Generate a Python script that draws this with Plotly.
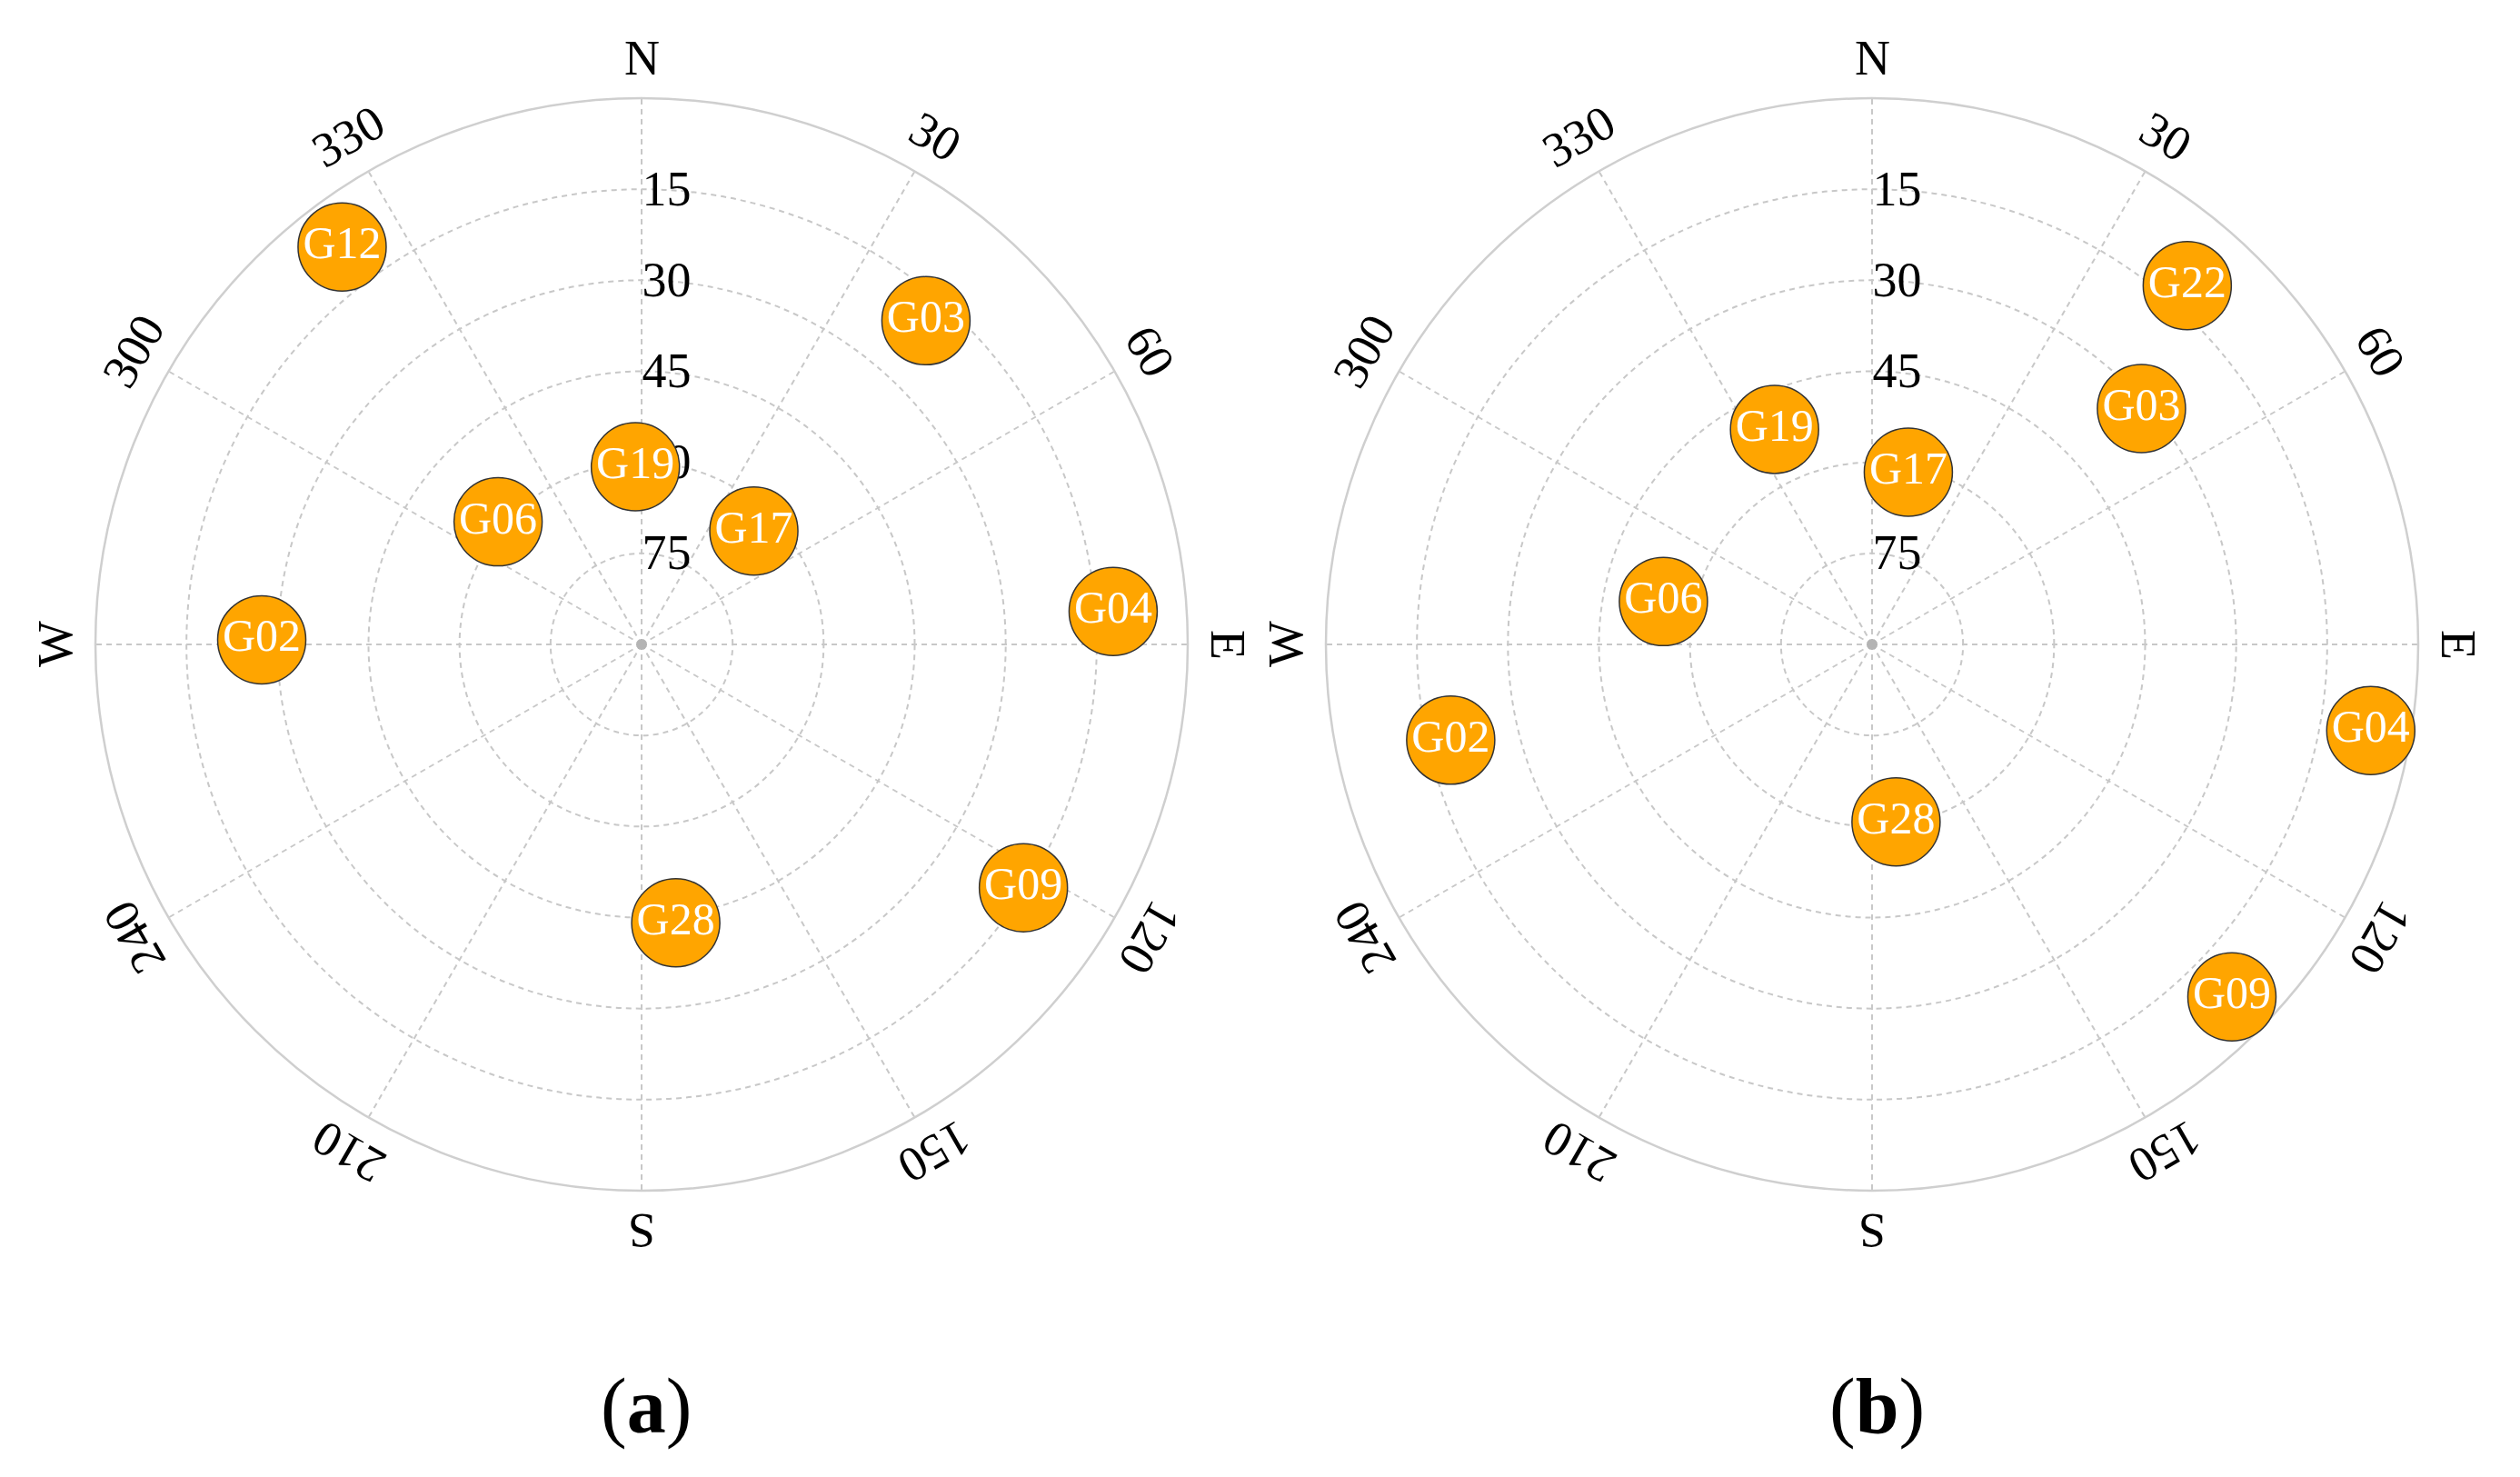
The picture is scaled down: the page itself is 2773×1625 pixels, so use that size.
import math
import plotly.graph_objects as go

# Sky plot data: satellite, azimuth (deg from N, clockwise), elevation (deg)
sats_a = ["G12", "G03", "G19", "G06", "G17", "G04", "G02", "G28", "G09"]
azim_a = [323.0, 41.3, 358.0, 310.5, 44.7, 86.0, 270.7, 173.0, 122.5]
elev_a = [8.0, 19.0, 60.7, 58.9, 63.7, 12.1, 27.4, 43.8, 15.4]

sats_b = ["G22", "G03", "G19", "G17", "G06", "G02", "G04", "G28", "G09"]
azim_b = [41.3, 48.8, 335.6, 11.9, 281.6, 257.2, 99.8, 172.3, 134.4]
elev_b = [11.3, 31.0, 51.1, 61.0, 54.9, 18.8, 6.6, 60.5, 7.0]

elev_ticks = [15, 30, 45, 60, 75]
azim_ticks = [0, 30, 60, 90, 120, 150, 180, 210, 240, 270, 300, 330]
azim_labels = ["N", "30", "60", "E", "120", "150", "S", "210", "240", "W", "300", "330"]
captions = ["(<b>a</b>)", "(<b>b</b>)"]

# page geometry (pixels)
W, H = 2773, 1625
centers = [(706, 709), (2060, 709)]
R = 601
label_r = R + 44
FONT = "Liberation Serif"
GRID = "#c8c8c8"

fig = go.Figure()
annotations = []
panels = [(sats_a, azim_a, elev_a), (sats_b, azim_b, elev_b)]

for i, (sats, azim, elev) in enumerate(panels):
    polar = "polar" if i == 0 else f"polar{i + 1}"
    cx, cy = centers[i]

    # zenith dot
    fig.add_trace(go.Scatterpolar(
        r=[0], theta=[0], subplot=polar, mode="markers",
        marker=dict(size=12, color="#b4b4b4"), hoverinfo="skip",
    ))
    fig.add_trace(go.Scatterpolar(
        r=[90 - e for e in elev], theta=azim, subplot=polar,
        mode="markers+text", text=sats, textposition="middle center",
        textfont=dict(family=FONT, size=50, color="white"),
        marker=dict(size=97, color="#FFA500", line=dict(color="#333333", width=1.5)),
        name=f"panel {i}",
    ))

    fig.update_layout({polar: dict(
        domain=dict(x=[(cx - R) / W, (cx + R) / W],
                    y=[(H - cy - R) / H, (H - cy + R) / H]),
        bgcolor="white",
        angularaxis=dict(
            rotation=90, direction="clockwise",
            tickvals=azim_ticks, showticklabels=False, ticks="",
            showgrid=True, gridcolor=GRID, gridwidth=1.5, griddash="6px,5px",
            showline=True, linecolor="#cfcfcf", linewidth=2.5,
            layer="below traces",
        ),
        radialaxis=dict(
            range=[0, 90], angle=90, tickangle=90,
            tickvals=[90 - e for e in elev_ticks],
            ticktext=[str(e) for e in elev_ticks],
            tickfont=dict(family=FONT, size=54, color="black"),
            showgrid=True, gridcolor=GRID, gridwidth=1.5, griddash="6px,5px",
            showline=False, ticks="", layer="below traces",
        ),
    )})

    # rotated azimuth labels around the rim
    for az, lab in zip(azim_ticks, azim_labels):
        a = math.radians(az)
        annotations.append(dict(
            x=(cx + label_r * math.sin(a)) / W,
            y=(H - cy + label_r * math.cos(a)) / H,
            xref="paper", yref="paper", text=lab, textangle=az,
            showarrow=False, xanchor="center", yanchor="middle",
            font=dict(family=FONT, size=54, color="black"),
        ))

    annotations.append(dict(
        x=(cx + 5) / W, y=(H - 1547) / H, xref="paper", yref="paper",
        text=captions[i], showarrow=False, xanchor="center", yanchor="middle",
        font=dict(family=FONT, size=86, color="black"),
    ))

fig.update_layout(
    width=W, height=H,
    margin=dict(l=0, r=0, t=0, b=0),
    paper_bgcolor="white",
    showlegend=False,
    font=dict(family=FONT),
    annotations=annotations,
)

fig.write_html("out.html", config={"displayModeBar": False},
               post_script="document.body.style.margin='0';")
